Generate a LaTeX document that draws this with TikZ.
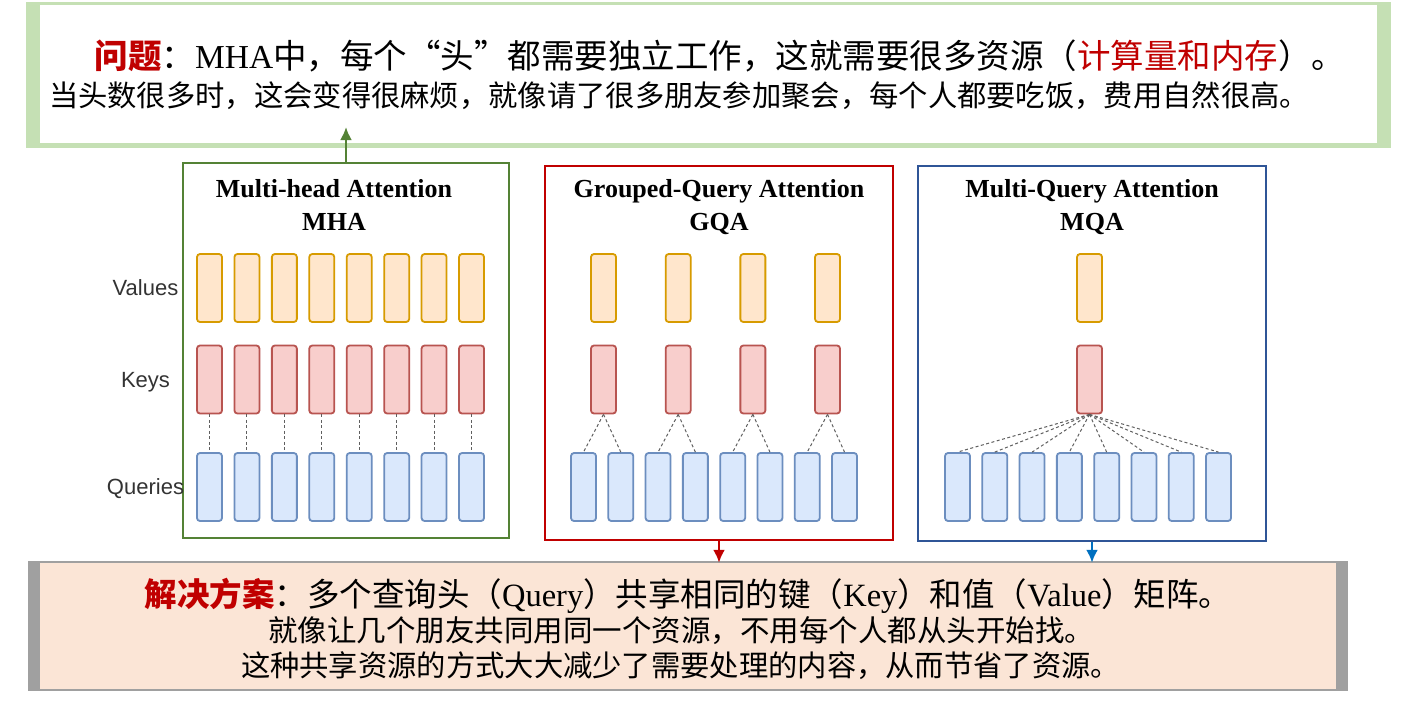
\documentclass[tikz,border=0pt]{standalone}
\usepackage{fontspec}
\setmainfont{Liberation Serif}
\newfontfamily\cjk{Noto Sans CJK SC}
\newfontfamily\lbl{Liberation Sans}
\usetikzlibrary{positioning,arrows.meta}
\definecolor{mhagreen}{HTML}{548235}
\definecolor{gqared}{HTML}{C00000}
\definecolor{mqablue}{HTML}{2F5597}
\definecolor{arrowblue}{HTML}{0070C0}
\definecolor{glowgreen}{HTML}{C5E0B4}
\definecolor{peach}{HTML}{FBE5D6}
\definecolor{shadowgray}{HTML}{A0A0A0}
\definecolor{valline}{HTML}{D79B00}
\definecolor{valfill}{HTML}{FFE6CC}
\definecolor{keyline}{HTML}{B85450}
\definecolor{keyfill}{HTML}{F8CECC}
\definecolor{qryline}{HTML}{6C8EBF}
\definecolor{qryfill}{HTML}{DAE8FC}
\definecolor{dashgray}{HTML}{606060}
\definecolor{labgray}{HTML}{333333}

\begin{document}
\begin{tikzpicture}[x=1pt,y=-1pt,
  panel/.style={draw,line width=2.5pt,minimum width=348pt,minimum height=374pt,inner sep=0pt},
  bar/.style={rounded corners=3pt,line width=1.8pt,minimum width=25pt,minimum height=68pt,inner sep=0pt},
  val/.style={bar,draw=valline,fill=valfill},
  key/.style={bar,draw=keyline,fill=keyfill},
  qry/.style={bar,draw=qryline,fill=qryfill},
  dl/.style={draw=dashgray,line width=1pt,dash pattern=on 3pt off 2.5pt},
  ttl/.style={font=\fontsize{26}{30}\selectfont\bfseries,anchor=base},
  lab/.style={font=\lbl\fontsize{22}{26}\selectfont,text=labgray,anchor=base},
  arj/.style={line width=2.5pt,-{Latex[length=13pt,width=12pt]}}]
  \useasboundingbox (0,0) rectangle (1415,702);
  \fill[white] (0,0) rectangle (1415,702);

  % problem box
  \fill[glowgreen] (26,2) rectangle (1391,148);
  \node[fill=white,minimum width=1337pt,minimum height=138pt,inner sep=0pt] (probbox) at (708.5,74) {};
  \node[anchor=base,font=\fontsize{33.5}{36}\selectfont] (prob1) at (720,68.5)
    {{\cjk\bfseries\color{gqared}问题}{\cjk ：}MHA{\cjk 中，每个“头”都需要独立工作，这就需要很多资源（}{\cjk\color{gqared}计算量和内存}{\cjk ）。}};
  \node[anchor=base,font=\cjk\fontsize{29.3}{32}\selectfont] (prob2) at (679,106)
    {当头数很多时，这会变得很麻烦，就像请了很多朋友参加聚会，每个人都要吃饭，费用自然很高。};

  % solution box
  \fill[shadowgray] (28,561) rectangle (1348,691);
  \node[fill=peach,minimum width=1296pt,minimum height=126pt,inner sep=0pt] (solbox) at (688,626) {};
  \node[anchor=base,font=\fontsize{32.5}{36}\selectfont] (sol1) at (688,606)
    {{\cjk\bfseries\color{gqared}解决方案}{\cjk ：多个查询头（}Query{\cjk ）共享相同的键（}Key{\cjk ）和值（}Value{\cjk ）矩阵。}};
  \node[anchor=base,font=\cjk\fontsize{29.5}{32}\selectfont] (sol2) at (681,641)
    {就像让几个朋友共同用同一个资源，不用每个人都从头开始找。};
  \node[anchor=base,font=\cjk\fontsize{29.3}{32}\selectfont] (sol3) at (680.5,676)
    {这种共享资源的方式大大减少了需要处理的内容，从而节省了资源。};

  % panels
  \node[panel,draw=mhagreen,minimum width=326pt,minimum height=375pt] (mha) at (346,350.5) {};
  \node[panel,draw=gqared] (gqa) at (719,353) {};
  \node[panel,draw=mqablue,minimum height=375pt] (mqa) at (1092,353.5) {};

  \node[ttl] (mhattl) at (334,197.5) {Multi-head Attention};
  \node[ttl] (mhaname) at (334,230.5) {MHA};
  \node[ttl] (gqattl) at (719,197.5) {Grouped-Query Attention};
  \node[ttl] (gqaname) at (719,230.5) {GQA};
  \node[ttl] (mqattl) at (1092,197.5) {Multi-Query Attention};
  \node[ttl] (mqaname) at (1092,230.5) {MQA};

  \node[lab] (values) at (145.5,295) {Values};
  \node[lab] (keys) at (145.5,387) {Keys};
  \node[lab] (queries) at (145.5,494) {Queries};

  % MHA: one key and value per query
  \foreach \i in {1,...,8} {
    \node[val] (mhav\i) at ({209.5+37.43*(\i-1)},288) {};
    \node[key] (mhak\i) at ({209.5+37.43*(\i-1)},379.5) {};
    \node[qry] (mhaq\i) at ({209.5+37.43*(\i-1)},487) {};
    \draw[dl] (mhak\i.south) -- (mhaq\i.north);
  }

  % GQA: two queries per group
  \foreach \j in {1,...,4} {
    \node[val] (gqav\j) at ({603.5+74.67*(\j-1)},288) {};
    \node[key] (gqak\j) at ({603.5+74.67*(\j-1)},379.5) {};
  }
  \foreach \i in {1,...,8} {
    \pgfmathtruncatemacro\g{(\i+1)/2}
    \node[qry] (gqaq\i) at ({583.5+37.29*(\i-1)},487) {};
    \draw[dl] (gqak\g.south) -- (gqaq\i.north);
  }

  % MQA: one shared key and value
  \node[val] (mqav) at (1089.5,288) {};
  \node[key] (mqak) at (1089.5,379.5) {};
  \foreach \i in {1,...,8} {
    \node[qry] (mqaq\i) at ({957.5+37.29*(\i-1)},487) {};
    \draw[dl] (mqak.south) -- (mqaq\i.north);
  }

  % arrows to the boxes
  \coordinate (probtip) at (346,127);
  \draw[arj,mhagreen] (mha.north) -- (probtip);
  \draw[arj,gqared] (gqa.south) -- (solbox.north -| gqa.south);
  \draw[arj,arrowblue] (mqa.south) -- (solbox.north -| mqa.south);
\end{tikzpicture}
\end{document}
